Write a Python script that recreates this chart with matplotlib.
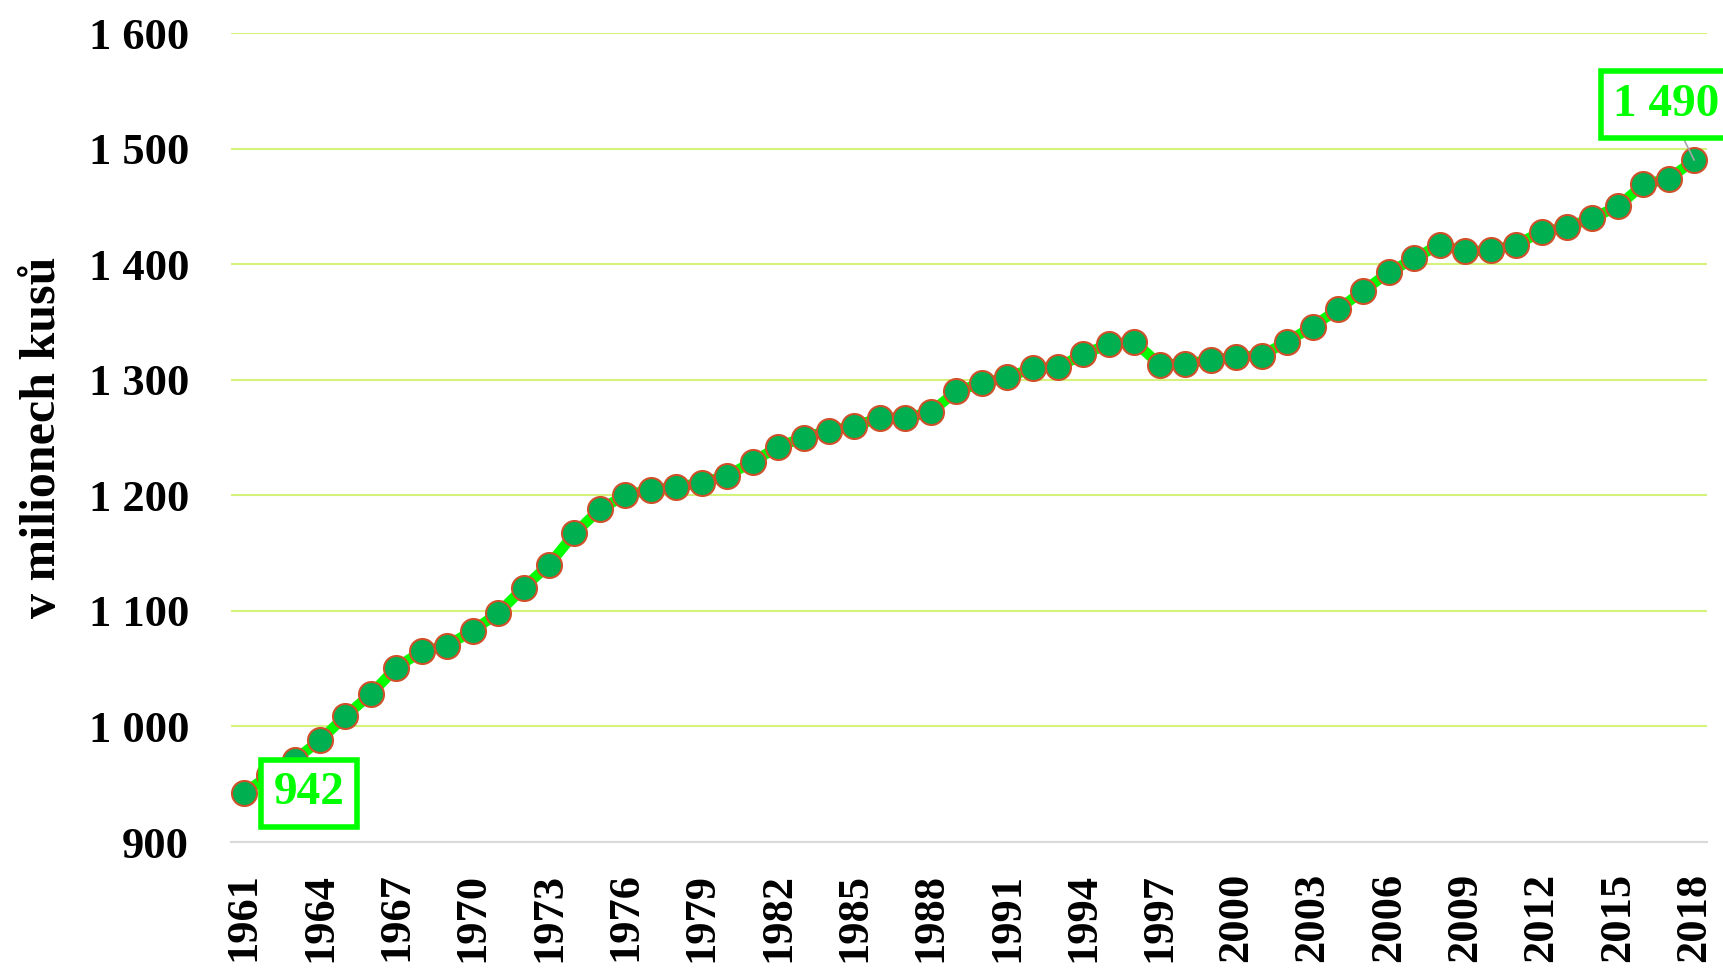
import matplotlib
matplotlib.use("Agg")
import matplotlib.pyplot as plt
import numpy as np

plt.rcParams['font.family'] = ['Liberation Serif', 'DejaVu Serif']
plt.rcParams['font.weight'] = 'bold'

# roky a hodnoty (v milionech kusů)
years = list(range(1961, 2019))
values = [942, 958, 971, 988, 1009, 1028, 1051, 1065, 1070, 1083,
          1098, 1120, 1140, 1167, 1188, 1200, 1205, 1207, 1211, 1217,
          1229, 1242, 1250, 1256, 1260, 1267, 1267, 1272, 1290, 1297,
          1302, 1310, 1311, 1322, 1331, 1333, 1313, 1314, 1317, 1320,
          1321, 1333, 1346, 1361, 1377, 1393, 1405, 1417, 1411, 1412,
          1417, 1428, 1432, 1440, 1450, 1469, 1474, 1490]
y_ticks = [900, 1000, 1100, 1200, 1300, 1400, 1500, 1600]

fig = plt.figure(figsize=(17.23, 9.73), dpi=100)
ax = fig.add_axes([0.134, 0.1346, 0.8567, 0.8314])

x = np.arange(len(years))
ax.plot(x, values, color="#00ff00", lw=7.5, zorder=3,
        marker="o", markersize=18, markerfacecolor="#00b050",
        markeredgecolor="#d0502a", markeredgewidth=1.5)

ax.set_xlim(-0.5, len(years) - 0.5)
ax.set_ylim(900, 1600)
ax.set_yticks(y_ticks)
ax.set_yticklabels(["{:,}".format(v).replace(",", " ") for v in y_ticks])
ax.set_xticks(x[::3])
ax.set_xticklabels([str(y) for y in years[::3]], rotation=90)
ax.tick_params(axis="y", length=0, pad=30, labelsize=32)
ax.tick_params(axis="x", length=0, pad=22, labelsize=32)

ax.grid(axis="y", color="#d5f27a", lw=1.5, zorder=0)
for s in ["top", "right", "left"]:
    ax.spines[s].set_visible(False)
ax.spines["bottom"].set_color("#d9d9d9")
ax.spines["bottom"].set_linewidth(1.5)

ax.set_ylabel("v milionech kusů", fontsize=36, fontweight="bold", labelpad=16)

box = dict(boxstyle="square,pad=0.27", fc="white", ec="#00ff00", lw=4)
ax.annotate("942", (x[0], values[0]), xytext=(47, 0), textcoords="offset points",
            ha="center", va="center", fontsize=34, color="#00ff00", bbox=box,
            zorder=5)
ax.annotate("1 490", (x[-1], values[-1]), xytext=(-20, 40), textcoords="offset points",
            ha="center", va="center", fontsize=34, color="#00ff00", bbox=box,
            arrowprops=dict(arrowstyle="-", color="#a6a6a6", lw=1.2,
                            shrinkA=0, shrinkB=0),
            zorder=5, annotation_clip=False)

fig.savefig("out.png", dpi=100)
